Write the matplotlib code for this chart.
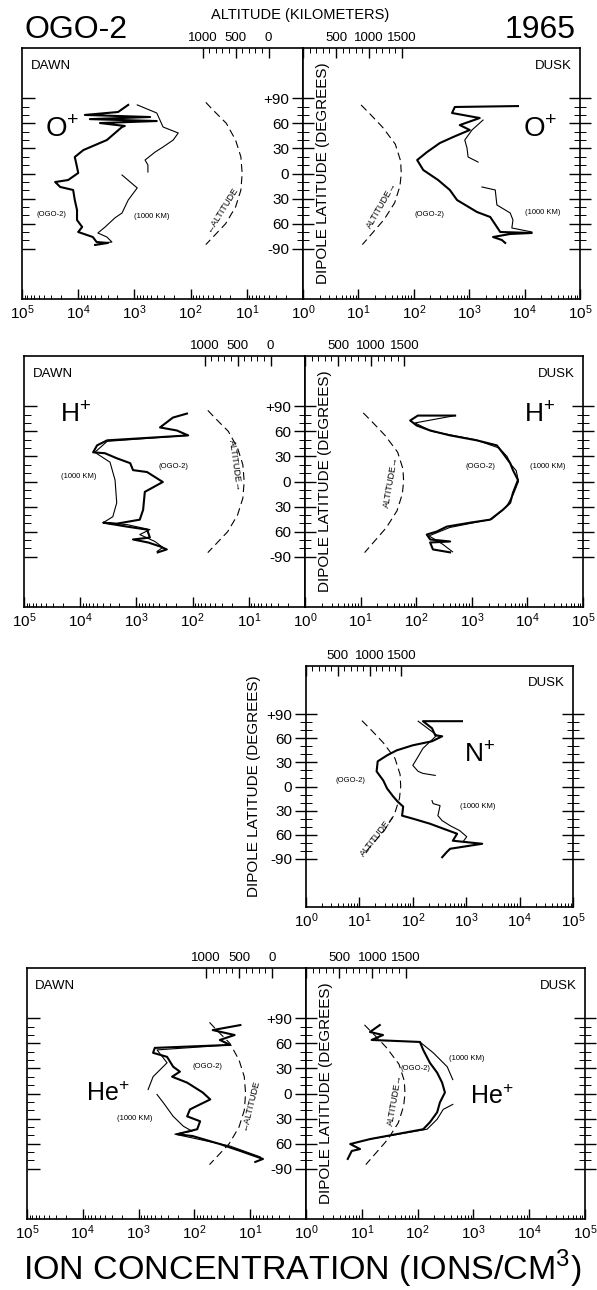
import numpy as np
import matplotlib
matplotlib.use("Agg")
import matplotlib.pyplot as plt
from matplotlib import ticker

plt.rcParams['font.family'] = ['Liberation Sans', 'DejaVu Sans']
plt.rcParams['axes.linewidth'] = 1.2

# ---- data (latitude in degrees, concentration in ions/cm^3) ----
# O+ dawn
o_dawn_ogo_lat = [82, 73.5, 70, 67.5, 65, 62.7, 60.3, 56.8, 55.6, 40, 28, 19.7, 7.8, 0.6, -7.8, -10.2,
                  -16.1, -19.7, -31.7, -43.6, -55.6, -63.9, -69.9, -75.9, -81.9, -83, -85.4]
o_dawn_ogo = [1290, 1950, 7600, 525, 6200, 400, 4100, 1480, 1660, 3090, 8100, 11500, 10500, 10000, 15100,
              25700, 20900, 12300, 11500, 10500, 10500, 8500, 10000, 5500, 4700, 2950, 5000]
o_dawn_km_lat = [82, 72.3, 55.6, 48.4, 40, 31.7, 25.7, 16.1, 10.2, 1.8, np.nan,
                 -1.8, -17.3, -31.7, -47.2, -53.2, -63.9, -71.1, -75.9, -81.9, -83]
o_dawn_km = [890, 400, 309, 166, 204, 309, 427, 646, 575, 575, np.nan,
             1660, 891, 1288, 1660, 2239, 3311, 4467, 3090, 2512, 3631]
# O+ dusk
o_dusk_ogo_lat = [80.6, 79.5, 72.3, 66.3, 57.9, 52, 43.6, 36.4, 25.7, 16.1, 4.2, -7.8, -19.7, -31.7,
                  -46, -52, -63.9, -69.9, -71.1, -72.3, -75.9, -79.5, -83]
o_dusk_ogo = [7586, 550, 490, 1549, 676, 1023, 513, 295, 174, 115, 148, 275, 447, 603,
              1380, 2399, 3162, 3631, 13490, 5495, 2692, 3890, 4467]
o_dusk_km_lat = [63.9, 52, 40, 30.5, 19.7, 13.7, np.nan, -16.1, -19.7, -37.6, -47.2, -55.6, -65.1, -69.9]
o_dusk_km = [1778, 1122, 832, 912, 955, 1445, np.nan, 1698, 2951, 3162, 5495, 6166, 5888, 13490]
# H+ dawn
h_dawn_ogo_lat = [81.2, 76.4, 64.6, 61, 55.1, 49.2, 43.2, 34.9, 33.8, 27.8, 21.9, 13.6, 11.3, -0.6,
                  -12.4, -33.8, -45.6, -50.4, -49.2, -53.9, -57.5, -67, -69.3, -72.9, -77.6, -81.2, -84.7]
h_dawn_ogo = [126, 224, 380, 191, 120, 3311, 5012, 5888, 3631, 2239, 1288, 1148, 646, 339,
              708, 759, 871, 2239, 3890, 1479, 646, 575, 1148, 617, 380, 288, 417]
h_dawn_km_lat = [55.1, 48, 34.9, 23.1, 1.8, -25.5, -42.1, -49.2, -51.5, -57.5, -63.4, -71.7, -78.8, -83.5]
h_dawn_km = [120, 3311, 5495, 2951, 2399, 2239, 2630, 3890, 1479, 575, 871, 468, 339, 427]
# H+ dusk
h_dusk_ogo_lat = [78.8, 78.8, 72.9, 66.9, 61, 55.1, 49.2, 43.2, 33.8, 21.9, 13.6, 1.8, -13.6, -25.5,
                  -33.8, -45.6, -49.2, -53.9, -59.8, -63.4, -69.3, -71.7, -72.9, -81.2, -84.7]
h_dusk_ogo = [501, 107, 78, 102, 178, 407, 1230, 2818, 3631, 4898, 5495, 6761, 5495, 4898,
              3631, 2138, 933, 355, 234, 155, 178, 407, 178, 200, 407]
h_dusk_km_lat = [78.8, 70, 60, 50, 40, 30, 20, 13, 0, -15, -30, -45, -55, -65, -75, -84]
h_dusk_km = [501, 95, 190, 1150, 3100, 4300, 5100, 6300, 6900, 5600, 4200, 2300, 400, 170, 300, 450]
# N+ dusk
n_dusk_ogo_lat = [81.3, 81.3, 72.5, 63.8, 62.5, 56.3, 51.3, 45, 38.8, 31.3, 18.8, 7.5, -2.5, -12.5,
                  -18.8, -25, -36.3, -40, -46.3, -52.5, -58.8, -67.5, -71.3, -77.5, -81.3, -88]
n_dusk_ogo = [832, 155, 229, 263, 355, 229, 100, 50, 33, 22, 21, 28, 33, 43,
              52, 66, 63, 100, 209, 372, 676, 562, 1995, 501, 437, 355]
n_dusk_km_lat = [81.3, 63.8, 47.5, 35, 26.3, 18.8, 16.3, 13.8, np.nan,
                 -17.5, -21.3, -23.8, -36.3, -42.5, -48.8, -55, -62.5, -68.8]
n_dusk_km = [126, 282, 155, 120, 100, 126, 155, 263, np.nan,
             229, 240, 324, 295, 355, 501, 759, 1023, 871]
# He+ dawn
he_dawn_ogo_lat = [81.8, 75.8, 69.9, 64, 58.1, 54.5, 48.6, 43.8, 32, 26.1, 20.1, 13, 1.2, -7.1, -13,
                   -19, -27.3, -33.2, -42.7, -48.6, -50.9, -60.4, -68.7, -78.2, -81.8]
he_dawn_ogo = [15, 47, 19, 35, 23, 513, 550, 309, 240, 182, 251, 135, 71, 52, 79,
               120, 135, 79, 89, 204, 107, 35, 15, 5.9, 8.1]
he_dawn_km_lat = [58.1, 52.1, 36.7, 20.1, 4.7, np.nan, -1.2, -10.7, -27.3, -39.1, -45, -48.6, -62.8, -75.8]
he_dawn_km = [23, 468, 309, 550, 676, np.nan, 468, 363, 240, 158, 110, 224, 23, 6.6]
# He+ dusk
he_dusk_ogo_lat = [81.8, 73.5, 69.9, 64, 61.6, 52.1, 36.7, 24.9, 13, 1.2, -10.7, -22.5, -34.4, -42.7,
                   -54.5, -60.4, -66.4, -68.7, -78.2]
he_dusk_ogo = [21, 14, 24, 15, 110, 126, 166, 224, 275, 309, 251, 224, 166, 126,
               14, 6.2, 9.3, 6.6, 5.6]
he_dusk_km_lat = [61.6, 48.6, 32, 16.6, np.nan, -13, -19, -30.8, -42.7, -54.5]
he_dusk_km = [110, 191, 339, 427, np.nan, 427, 288, 224, 148, 14]

# satellite altitude along the pass (km)
alt_dawn_lat = [85, 75, 60, 40, 20, 0, -20, -40, -60, -75, -85]
alt_dawn_km = [950, 830, 640, 500, 420, 400, 420, 500, 650, 830, 950]
alt_dusk_lat = [82, 70, 55, 35, 15, 0, -15, -35, -55, -75, -85]
alt_dusk_km = [880, 1030, 1210, 1400, 1480, 1490, 1470, 1390, 1230, 1010, 900]

lat_ticks = [90, 60, 30, 0, -30, -60, -90]
lat_tick_labels = ['+90', '60', '30', '0', '30', '60', '-90']
lat_minor = [v for v in range(-90, 91, 10) if v % 30 != 0]

W, H = 597, 1290
fig = plt.figure(figsize=(W / 100, H / 100), dpi=100)


def rect(x0, y0, x1, y1):
    return [x0 / W, 1 - y1 / H, (x1 - x0) / W, (y1 - y0) / H]


def ftext(x, y, s, **kw):
    fig.text(x / W, 1 - y / H, s, **kw)


def conc_axis(ax, dawn):
    ax.set_xscale('log')
    ax.set_xlim((1e5, 1) if dawn else (1, 1e5))
    ax.set_ylim(-150, 150)
    ax.xaxis.set_major_locator(ticker.LogLocator(base=10, numticks=10))
    ax.xaxis.set_minor_locator(ticker.LogLocator(base=10, subs=np.arange(2, 10), numticks=10))
    if dawn:
        fmt = ticker.LogFormatterMathtext()
        ax.xaxis.set_major_formatter(ticker.FuncFormatter(lambda v, p: '' if v < 2 else fmt(v, p)))
    else:
        ax.xaxis.set_major_formatter(ticker.LogFormatterMathtext())
    ax.tick_params(axis='x', which='major', direction='in', length=7, width=1, labelsize=11, pad=3)
    ax.tick_params(axis='x', which='minor', direction='in', length=3, width=0.7)
    ax.yaxis.set_major_locator(ticker.FixedLocator(lat_ticks))
    ax.yaxis.set_minor_locator(ticker.FixedLocator(lat_minor))
    ax.yaxis.set_major_formatter(ticker.FixedFormatter(lat_tick_labels))


def alt_axis(ax, dawn):
    alt = ax.twiny()
    alt.set_xlim((3730, -520) if dawn else (0, 4200))
    top = 1000 if dawn else 1500
    majors = [0, 500, 1000] if dawn else [0, 500, 1000, 1500]
    alt.xaxis.set_major_locator(ticker.FixedLocator(majors))
    alt.xaxis.set_minor_locator(ticker.FixedLocator([v for v in range(100, top, 100) if v % 500]))
    alt.xaxis.set_major_formatter(ticker.FuncFormatter(
        lambda v, p: '' if (v == 0 and not dawn) else '%d' % v))
    alt.tick_params(axis='x', which='major', direction='in', length=7, width=1, labelsize=9.5, pad=3)
    alt.tick_params(axis='x', which='minor', direction='in', length=3.5, width=0.7)
    for s in alt.spines.values():
        s.set_visible(False)
    lat = alt_dawn_lat if dawn else alt_dusk_lat
    km = alt_dawn_km if dawn else alt_dusk_km
    alt.plot(km, lat, color='black', lw=0.8, dashes=(7, 4))
    return alt


def dawn_panel(box, ogo, ogo_lat, km, km_lat):
    ax = fig.add_axes(rect(*box))
    conc_axis(ax, True)
    ax.tick_params(axis='y', which='major', direction='in', length=9, width=1, labelleft=False, right=False)
    ax.tick_params(axis='y', which='minor', direction='in', length=5, width=0.7, right=False)
    ax.plot(ogo, ogo_lat, color='black', lw=1.5)
    ax.plot(km, km_lat, color='black', lw=0.8)
    ax.text(0.03, 0.93, 'DAWN', transform=ax.transAxes, fontsize=9.5, va='center')
    alt_axis(ax, True)
    return ax


def dusk_panel(box, ogo, ogo_lat, km, km_lat, outer_labels=False):
    ax = fig.add_axes(rect(*box))
    conc_axis(ax, False)
    ax.tick_params(axis='y', which='major', direction='inout', length=16, width=1, labelsize=11,
                   right=True, pad=2)
    ax.tick_params(axis='y', which='minor', direction='inout', length=9, width=0.7, right=True)
    ax.plot(ogo, ogo_lat, color='black', lw=1.5)
    ax.plot(km, km_lat, color='black', lw=0.8)
    ax.text(0.97, 0.93, 'DUSK', transform=ax.transAxes, fontsize=9.5, va='center', ha='right')
    if outer_labels:
        ax.set_ylabel('DIPOLE LATITUDE (DEGREES)', fontsize=11, labelpad=4)
    else:
        ax.text(0.072, 0.5, 'DIPOLE LATITUDE (DEGREES)', transform=ax.transAxes, fontsize=11,
                rotation=90, va='center', ha='center')
    alt_axis(ax, False)
    return ax


small = dict(fontsize=5.5, ha='center', va='center')

# ---- row 1: O+ ----
dawn_panel((22, 48, 303, 299), o_dawn_ogo, o_dawn_ogo_lat, o_dawn_km, o_dawn_km_lat)
dusk_panel((303, 48, 580, 299), o_dusk_ogo, o_dusk_ogo_lat, o_dusk_km, o_dusk_km_lat)
ftext(62, 130, r'O$^{\mathdefault{+}}$', fontsize=20, ha='center', va='center')
ftext(540, 130, r'O$^{\mathdefault{+}}$', fontsize=20, ha='center', va='center')
ftext(51, 215, '(OGO-2)', **small)
ftext(152, 216, '(1000 KM)', **small)
ftext(429, 215, '(OGO-2)', **small)
ftext(543, 212, '(1000 KM)', **small)
ftext(222, 210, '\u2190ALTITUDE', fontsize=6.5, rotation=58, ha='center', va='center')
ftext(382, 205, 'ALTITUDE\u2192', fontsize=6.5, rotation=60, ha='center', va='center')
ftext(24, 30, 'OGO-2', fontsize=23, ha='left', va='center')
ftext(576, 30, '1965', fontsize=23, ha='right', va='center')
ftext(300, 15, 'ALTITUDE (KILOMETERS)', fontsize=10.5, ha='center', va='center')

# ---- row 2: H+ ----
dawn_panel((24, 356, 305, 607), h_dawn_ogo, h_dawn_ogo_lat, h_dawn_km, h_dawn_km_lat)
dusk_panel((305, 356, 583, 607), h_dusk_ogo, h_dusk_ogo_lat, h_dusk_km, h_dusk_km_lat)
ftext(76, 414, r'H$^{\mathdefault{+}}$', fontsize=19, ha='center', va='center')
ftext(540, 414, r'H$^{\mathdefault{+}}$', fontsize=19, ha='center', va='center')
ftext(79, 477, '(1000 KM)', **small)
ftext(173, 467, '(OGO-2)', **small)
ftext(480, 467, '(OGO-2)', **small)
ftext(548, 467, '(1000 KM)', **small)
ftext(235, 465, 'ALTITUDE\u2192', fontsize=6.5, rotation=-82, ha='center', va='center')
ftext(391, 482, 'ALTITUDE\u2192', fontsize=6.5, rotation=80, ha='center', va='center')

# ---- row 3: N+ ----
dusk_panel((306, 666, 573, 907), n_dusk_ogo, n_dusk_ogo_lat, n_dusk_km, n_dusk_km_lat, outer_labels=True)
ftext(480, 753, r'N$^{\mathdefault{+}}$', fontsize=19, ha='center', va='center')
ftext(350, 780, '(OGO-2)', **small)
ftext(478, 807, '(1000 KM)', **small)
ftext(378, 835, 'ALTITUDE\u2192', fontsize=6.5, rotation=52, ha='center', va='center')

# ---- row 4: He+ ----
dawn_panel((27, 968, 306, 1219), he_dawn_ogo, he_dawn_ogo_lat, he_dawn_km, he_dawn_km_lat)
dusk_panel((306, 968, 585, 1219), he_dusk_ogo, he_dusk_ogo_lat, he_dusk_km, he_dusk_km_lat)
ftext(108, 1094, r'He$^{\mathdefault{+}}$', fontsize=18, ha='center', va='center')
ftext(492, 1097, r'He$^{\mathdefault{+}}$', fontsize=18, ha='center', va='center')
ftext(207, 1067, '(OGO-2)', **small)
ftext(135, 1118, '(1000 KM)', **small)
ftext(467, 1058, '(1000 KM)', **small)
ftext(415, 1068, '(OGO-2)', **small)
ftext(250, 1105, '\u2190ALTITUDE', fontsize=6.5, rotation=76, ha='center', va='center')
ftext(395, 1100, 'ALTITUDE\u2192', fontsize=6.5, rotation=80, ha='center', va='center')

ftext(302, 1280, r'ION CONCENTRATION (IONS/CM$^{\mathdefault{3}}$)', fontsize=24.5,
      ha='center', va='baseline')

fig.savefig('out.png', dpi=100)
